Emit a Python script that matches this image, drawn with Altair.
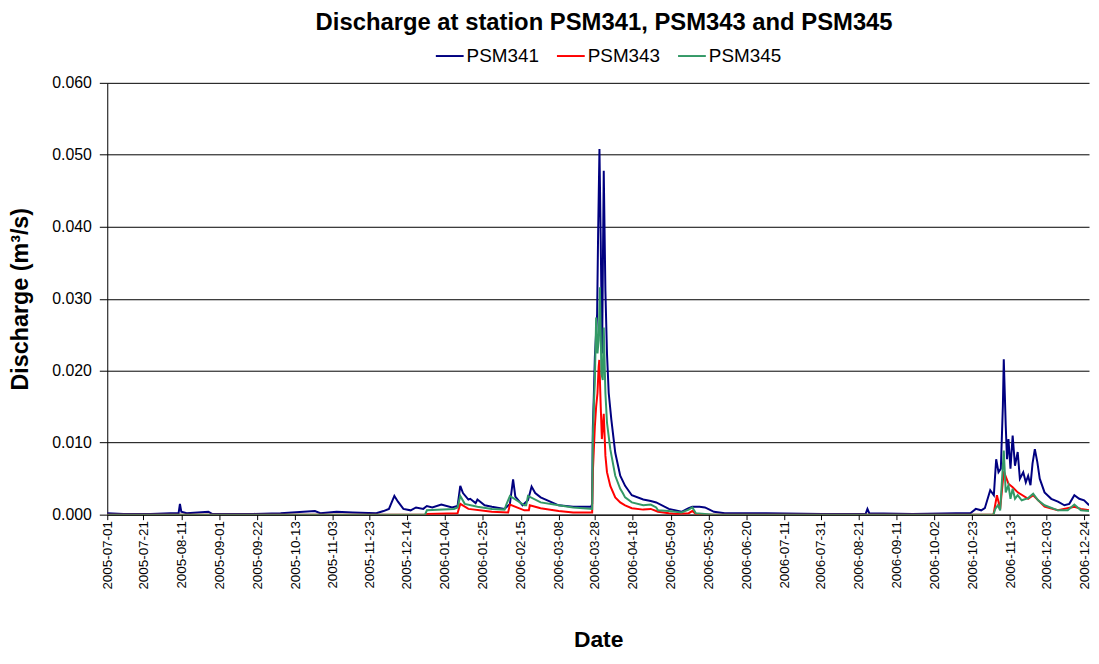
import altair as alt
import pandas as pd

# ---------------- data ----------------
t341 = ["2005-07-01", "2005-07-10", "2005-07-25", "2005-08-05", "2005-08-09 12:00", "2005-08-10 06:00",
        "2005-08-11", "2005-08-14", "2005-08-26", "2005-08-28", "2005-09-20", "2005-10-05",
        "2005-10-24", "2005-10-27", "2005-11-05", "2005-11-14", "2005-11-27", "2005-12-01",
        "2005-12-04", "2005-12-07", "2005-12-09", "2005-12-12", "2005-12-16", "2005-12-19",
        "2005-12-23", "2005-12-25", "2005-12-28", "2006-01-02", "2006-01-08", "2006-01-11",
        "2006-01-12 12:00", "2006-01-14", "2006-01-17", "2006-01-18", "2006-01-21", "2006-01-22",
        "2006-01-26", "2006-01-30", "2006-02-06", "2006-02-09", "2006-02-10 18:00", "2006-02-12",
        "2006-02-16", "2006-02-19", "2006-02-21", "2006-02-23", "2006-02-26", "2006-03-08",
        "2006-03-16", "2006-03-26 00:00", "2006-03-26 13:00", "2006-03-26 22:00", "2006-03-27 11:00",
        "2006-03-28 01:00", "2006-03-29 07:00", "2006-03-29 20:00", "2006-03-30 14:00",
        "2006-03-31 07:00", "2006-04-01 01:00", "2006-04-01 23:00", "2006-04-02 21:00",
        "2006-04-03 18:00", "2006-04-04 17:00", "2006-04-06 04:00", "2006-04-08 08:00",
        "2006-04-11 02:00", "2006-04-13 19:00", "2006-04-17 12:00", "2006-04-23 20:00",
        "2006-04-28", "2006-05-01", "2006-05-08", "2006-05-15", "2006-05-19", "2006-05-21",
        "2006-05-25", "2006-05-28", "2006-06-02", "2006-06-08", "2006-07-01", "2006-08-01",
        "2006-08-25", "2006-08-26", "2006-08-27", "2006-09-20", "2006-10-14", "2006-10-22",
        "2006-10-25", "2006-10-28", "2006-10-30", "2006-11-02", "2006-11-04",
        "2006-11-05 07:00", "2006-11-06 14:00", "2006-11-07 21:00", "2006-11-09 00:00",
        "2006-11-09 12:00", "2006-11-10 14:00", "2006-11-11 07:00", "2006-11-12 02:00",
        "2006-11-13 05:00", "2006-11-14 10:00", "2006-11-15 17:00", "2006-11-17 05:00",
        "2006-11-18 10:00", "2006-11-20 07:00", "2006-11-21 17:00", "2006-11-23 00:00",
        "2006-11-24 07:00", "2006-11-25 10:00", "2006-11-26 17:00", "2006-11-28 02:00",
        "2006-11-29 10:00", "2006-12-02 02:00", "2006-12-05 19:00", "2006-12-09 12:00",
        "2006-12-13 02:00", "2006-12-15 19:00", "2006-12-18 14:00", "2006-12-21 07:00",
        "2006-12-24 00:00", "2006-12-26 19:00"]
q341 = [0.0002, 0.0001, 0.0001, 0.0002, 0.0002, 0.0015,
        0.0004, 0.0002, 0.0004, 0.0001, 0.0001, 0.0002,
        0.0005, 0.0002, 0.0004, 0.0003, 0.0002, 0.0005,
        0.0008, 0.0026, 0.0018, 0.0008, 0.0006, 0.0010,
        0.0008, 0.0012, 0.0010, 0.0014, 0.0010, 0.0012,
        0.0040, 0.0030, 0.0021, 0.0022, 0.0016, 0.0021,
        0.0013, 0.0011, 0.0008, 0.0015, 0.0049, 0.0025,
        0.0013, 0.0020, 0.0039, 0.0030, 0.0024, 0.0013,
        0.0011, 0.0011, 0.0015, 0.0120, 0.0164,
        0.0219, 0.0279, 0.0389, 0.0508,
        0.0380, 0.0224, 0.0478, 0.0311,
        0.0224, 0.0169, 0.0132, 0.0086,
        0.0054, 0.0040, 0.0027, 0.0021,
        0.0019, 0.0017, 0.0008, 0.0004, 0.0009, 0.0011,
        0.0011, 0.0010, 0.0004, 0.0002, 0.0002, 0.0001,
        0.0001, 0.0008, 0.0002, 0.0001, 0.0002, 0.0002,
        0.0008, 0.0006, 0.0009, 0.0034, 0.0027,
        0.0077, 0.0059, 0.0064, 0.0151,
        0.0216, 0.0124, 0.0077, 0.0105,
        0.0064, 0.0110, 0.0068, 0.0087,
        0.0050, 0.0059, 0.0045, 0.0054,
        0.0041, 0.0071, 0.0091, 0.0073,
        0.0050, 0.0031, 0.0022, 0.0018,
        0.0013, 0.0015, 0.0027, 0.0022,
        0.0020, 0.0013]

t343 = ["2005-07-01", "2005-12-24", "2005-12-25", "2006-01-11", "2006-01-12 12:00", "2006-01-17",
        "2006-01-30", "2006-02-08", "2006-02-09", "2006-02-17", "2006-02-19 12:00", "2006-02-20",
        "2006-02-26", "2006-03-08", "2006-03-16", "2006-03-26 13:00", "2006-03-26 22:00",
        "2006-03-27 11:00", "2006-03-28 01:00", "2006-03-28 18:00", "2006-03-29 12:00",
        "2006-03-30 03:00", "2006-03-30 12:00", "2006-03-31 07:00", "2006-03-31 22:00",
        "2006-04-01 23:00", "2006-04-02 21:00", "2006-04-03 18:00", "2006-04-05 14:00",
        "2006-04-08 08:00", "2006-04-11 02:00", "2006-04-13 19:00", "2006-04-17 12:00",
        "2006-04-23 20:00", "2006-04-28", "2006-05-02", "2006-05-08", "2006-05-12", "2006-05-19",
        "2006-05-21", "2006-05-23", "2006-05-26", "2006-11-03 19:00", "2006-11-05 17:00",
        "2006-11-07 12:00", "2006-11-09 12:00", "2006-11-12 02:00", "2006-11-14 10:00",
        "2006-11-17 05:00", "2006-11-23 00:00", "2006-11-25 19:00", "2006-12-02 02:00",
        "2006-12-09 12:00", "2006-12-18 14:00", "2006-12-22 05:00", "2006-12-26 19:00"]
q343 = [0.0, 0.0, 0.0001, 0.0002, 0.0015, 0.0008,
        0.0004, 0.0003, 0.0014, 0.0006, 0.0006, 0.0013,
        0.0009, 0.0005, 0.0003, 0.0003, 0.0059,
        0.0090, 0.0123, 0.0150, 0.0169,
        0.0205, 0.0215, 0.0150, 0.0105,
        0.0140, 0.0082, 0.0059, 0.0040,
        0.0024, 0.0017, 0.0013, 0.0009,
        0.0007, 0.0008, 0.0004, 0.0002, 0.0001, 0.0002,
        0.0005, 0.0001, 0.0, 0.0, 0.0027,
        0.0008, 0.0060, 0.0043, 0.0038,
        0.0031, 0.0022, 0.0027, 0.0011,
        0.0006, 0.0011, 0.0008, 0.0006]

t345 = ["2005-07-01", "2005-12-24", "2005-12-25", "2006-01-09", "2006-01-11", "2006-01-12 12:00",
        "2006-01-15", "2006-01-22", "2006-01-30", "2006-02-06", "2006-02-07", "2006-02-09",
        "2006-02-17", "2006-02-18", "2006-02-19", "2006-02-26", "2006-03-08", "2006-03-16",
        "2006-03-26 13:00", "2006-03-26 22:00", "2006-03-27 11:00", "2006-03-28 01:00",
        "2006-03-28 18:00", "2006-03-29 12:00", "2006-03-30 03:00", "2006-03-30 20:00",
        "2006-03-31 16:00", "2006-04-01 10:00", "2006-04-01 23:00", "2006-04-02 21:00",
        "2006-04-03 18:00", "2006-04-05 14:00", "2006-04-08 08:00", "2006-04-11 02:00",
        "2006-04-12 12:00", "2006-04-13 19:00", "2006-04-17 12:00", "2006-04-23 20:00",
        "2006-04-28", "2006-05-01", "2006-05-02", "2006-05-08", "2006-05-15", "2006-05-19",
        "2006-05-21", "2006-05-23", "2006-05-28", "2006-06-02", "2006-11-03 19:00",
        "2006-11-04 19:00", "2006-11-06 05:00", "2006-11-07 12:00", "2006-11-09 12:00",
        "2006-11-10 14:00", "2006-11-12 02:00", "2006-11-13 05:00", "2006-11-14 10:00",
        "2006-11-15 17:00", "2006-11-17 05:00", "2006-11-19 10:00", "2006-11-23 00:00",
        "2006-11-25 19:00", "2006-11-28 12:00", "2006-12-02 02:00", "2006-12-09 12:00",
        "2006-12-14 22:00", "2006-12-18 14:00", "2006-12-22 05:00", "2006-12-26 19:00"]
q345 = [0.0, 0.0, 0.0006, 0.0008, 0.0010, 0.0026,
        0.0015, 0.0011, 0.0008, 0.0007, 0.0014, 0.0026,
        0.0013, 0.0013, 0.0026, 0.0017, 0.0013, 0.0010,
        0.0008, 0.0105, 0.0150, 0.0187,
        0.0274, 0.0224, 0.0242, 0.0316,
        0.0196, 0.0187, 0.0260, 0.0169,
        0.0128, 0.0091, 0.0054, 0.0036,
        0.0030, 0.0024, 0.0017, 0.0013,
        0.0014, 0.0010, 0.0006, 0.0005, 0.0003, 0.0007,
        0.0010, 0.0002, 0.0001, 0.0, 0.0,
        0.0008, 0.0013, 0.0006, 0.0089,
        0.0031, 0.0041, 0.0022, 0.0036,
        0.0022, 0.0027, 0.0020, 0.0023,
        0.0029, 0.0020, 0.0013, 0.0006,
        0.0006, 0.0014, 0.0006, 0.0005]

stations = ["PSM341", "PSM343", "PSM345"]
colors = ["#000080", "#FF0000", "#339966"]

tick_labels = ["2005-07-01", "2005-07-21", "2005-08-11", "2005-09-01", "2005-09-22", "2005-10-13",
               "2005-11-03", "2005-11-23", "2005-12-14", "2006-01-04", "2006-01-25", "2006-02-15",
               "2006-03-08", "2006-03-28", "2006-04-18", "2006-05-09", "2006-05-30", "2006-06-20",
               "2006-07-11", "2006-07-31", "2006-08-21", "2006-09-11", "2006-10-02", "2006-10-23",
               "2006-11-13", "2006-12-03", "2006-12-24"]

# ---------------- build table ----------------
frames = []
for name, ts, qs in zip(stations, [t341, t343, t345], [q341, q343, q345]):
    frames.append(pd.DataFrame({"Date": pd.to_datetime(ts, format="mixed"),
                                "Discharge": qs, "Station": name}))
df = pd.concat(frames, ignore_index=True)


def dt(s, hours=0):
    y, m, d = (int(v) for v in s.split("-"))
    return alt.DateTime(year=y, month=m, date=d, hours=hours)


font = "Liberation Sans"

chart = alt.Chart(df).mark_line(strokeWidth=2, clip=True).encode(
    x=alt.X("Date:T",
            scale=alt.Scale(domain=[dt("2005-07-01"), dt("2006-12-26", 17)]),
            axis=alt.Axis(values=[dt(s) for s in tick_labels], format="%Y-%m-%d",
                          labelAngle=-90, labelFontSize=13.5, labelColor="black",
                          labelFont=font, labelPadding=1, labelOverlap=False, labelBound=False,
                          labelFlush=False,
                          title="Date", titleFontSize=23, titleFont=font, titleFontWeight="bold",
                          titleColor="black", titlePadding=40,
                          grid=False, domainColor="black", tickColor="black", tickSize=5)),
    y=alt.Y("Discharge:Q",
            scale=alt.Scale(domain=[0, 0.06], nice=False),
            axis=alt.Axis(values=[0, 0.01, 0.02, 0.03, 0.04, 0.05, 0.06], format=".3f",
                          labelFontSize=16, labelFont=font, labelColor="black", labelPadding=8,
                          title="Discharge (m³/s)", titleFontSize=23.5, titleFont=font,
                          titleFontWeight="bold", titleColor="black", titlePadding=19,
                          grid=True, gridColor="black", gridWidth=1,
                          domainColor="black", tickColor="black", tickSize=8)),
    color=alt.Color("Station:N",
                    scale=alt.Scale(domain=stations, range=colors),
                    legend=alt.Legend(title=None, orient="none", direction="horizontal",
                                      legendX=330, legendY=-42, padding=0, symbolType="stroke",
                                      symbolStrokeWidth=2, symbolSize=784, labelFontSize=19,
                                      labelFont=font, labelColor="black", labelOffset=2,
                                      columnPadding=14)),
).properties(
    width=989,
    height=435,
    title=alt.TitleParams("Discharge at station PSM341, PSM343 and PSM345", fontSize=24,
                          font=font, fontWeight="bold", color="black", anchor="middle",
                          offset=6, dx=6),
    autosize=alt.AutoSizeParams(type="none"),
    padding={"left": 100, "top": 73, "right": 2, "bottom": 140},
).configure_view(stroke=None)

chart.save("out.html", embed_options={"renderer": "svg", "actions": False})
